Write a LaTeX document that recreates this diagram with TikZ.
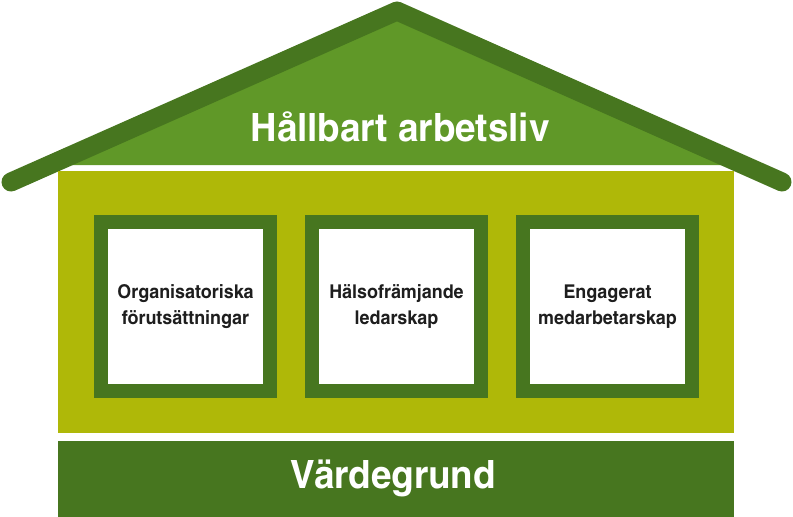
\documentclass[tikz,border=0pt]{standalone}
\usepackage{fontspec}
\setmainfont{texgyreheroscn}[Extension=.otf, UprightFont=*-regular, BoldFont=*-bold,
  BoldFeatures={FakeStretch=1.15}]
\definecolor{roofgreen}{RGB}{96,152,40}
\definecolor{darkgreen}{RGB}{71,118,31}
\definecolor{wallgreen}{RGB}{175,184,8}
\definecolor{textdark}{RGB}{30,30,30}

\begin{document}
\begin{tikzpicture}[x=1pt,y=-1pt,
  window/.style={draw=darkgreen, fill=white, line width=14pt, minimum size=169pt,
    inner sep=0pt, align=center, text=textdark, font=\bfseries\fontsize{19}{26}\selectfont},
  bigtext/.style={text=white, font=\bfseries\fontsize{39}{44}\selectfont}]
  \useasboundingbox (0,0) rectangle (793,517);

  \fill[roofgreen] (50,165) -- (397,11) -- (743,165) -- cycle;
  \draw[darkgreen, line width=19pt, line cap=round, line join=round] (11,182) -- (397,11) -- (782,182);

  \fill[wallgreen] (58,171) rectangle (734,433);
  \fill[darkgreen] (58,441) rectangle (734,517);

  \node[window] (org) at (185.5,306.5) {Organisatoriska\\förutsättningar};
  \node[window] (led) at (396.5,306.5) {Hälsofrämjande\\ledarskap};
  \node[window] (med) at (607.5,306.5) {Engagerat\\medarbetarskap};

  \node[bigtext] (liv) at (400,127) {Hållbart arbetsliv};
  \node[bigtext] (grund) at (393,478) {Värdegrund};
\end{tikzpicture}
\end{document}
